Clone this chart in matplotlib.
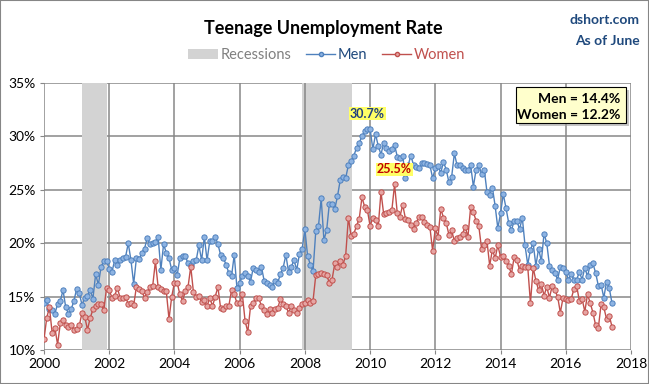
import numpy as np
import matplotlib.pyplot as plt
from matplotlib.patches import Rectangle
from matplotlib.lines import Line2D

plt.rcParams['font.family'] = ['Lato', 'DejaVu Sans']

# monthly teenage unemployment rate (%), Jan 2000 - Jun 2017
start_year = 2000
men_rate = [
    14.4, 14.7, 13.8, 13.7, 13.4, 14.3, 14.6, 15.6, 14.0, 13.4, 13.8, 14.6,
    15.7, 15.3, 14.2, 14.9, 15.1, 15.6, 14.8, 17.1, 16.1, 17.8, 18.3, 18.3,
    17.6, 17.3, 18.4, 18.0, 18.4, 18.6, 18.7, 20.0, 18.4, 16.2, 18.6, 18.5,
    19.1, 19.5, 20.5, 19.9, 20.0, 20.1, 20.6, 17.5, 19.9, 19.1, 18.6, 17.5,
    17.7, 17.0, 18.6, 18.8, 18.8, 18.1, 18.0, 18.3, 18.4, 19.8, 18.4, 20.6,
    18.4, 20.2, 20.2, 20.6, 19.9, 18.9, 18.6, 18.0, 17.2, 16.9, 18.9, 15.8,
    16.3, 16.9, 17.2, 16.9, 16.4, 17.7, 17.5, 17.3, 17.8, 16.5, 16.3, 16.1,
    15.9, 16.5, 16.3, 17.1, 17.7, 18.9, 17.3, 17.8, 18.4, 17.5, 19.0, 19.5,
    21.3, 18.8, 18.0, 17.4, 21.1, 21.6, 24.2, 20.3, 21.2, 23.7, 23.7, 23.2,
    24.4, 25.9, 26.2, 26.1, 27.3, 27.7, 28.2, 28.9, 29.4, 30.0, 30.5, 30.7,
    30.7, 28.8, 30.2, 29.1, 28.3, 29.4, 28.9, 28.6, 28.8, 29.2, 28.1, 28.0,
    28.2, 26.1, 27.3, 28.2, 27.3, 27.1, 27.0, 27.5, 27.5, 27.4, 27.3, 26.1,
    27.0, 27.2, 26.6, 27.6, 26.9, 25.7, 26.2, 28.4, 27.3, 27.3, 27.0, 26.9,
    26.9, 27.3, 25.3, 26.9, 27.3, 26.5, 26.9, 24.8, 24.5, 25.2, 23.5, 21.4,
    22.8, 24.6, 23.3, 21.9, 21.2, 22.1, 22.1, 21.3, 22.4, 19.8, 18.0, 19.4,
    20.0, 17.9, 19.5, 18.3, 20.9, 20.0, 17.9, 17.5, 17.2, 16.6, 17.8, 17.7,
    17.3, 16.6, 17.1, 16.6, 16.6, 17.3, 16.6, 17.7, 16.9, 18.0, 18.1, 17.2,
    16.0, 16.1, 14.9, 16.4, 15.8, 14.4,
]
women_rate = [
    11.0, 13.0, 14.0, 11.6, 12.1, 10.5, 12.5, 12.8, 12.3, 12.2, 12.3, 11.9,
    12.0, 12.3, 13.5, 13.1, 11.9, 13.0, 13.8, 14.1, 14.3, 14.3, 13.7, 15.8,
    15.6, 14.9, 15.1, 15.8, 14.9, 14.9, 15.0, 14.3, 14.4, 14.2, 15.9, 15.7,
    15.5, 14.9, 15.4, 15.9, 16.0, 18.3, 15.9, 15.7, 15.5, 15.5, 12.9, 15.0,
    16.3, 16.3, 15.2, 14.6, 15.5, 15.9, 17.8, 15.4, 15.0, 15.1, 14.5, 14.7,
    14.1, 14.9, 14.1, 15.0, 15.9, 13.9, 13.8, 14.1, 14.1, 15.6, 15.2, 14.4,
    14.4, 15.2, 12.7, 11.7, 14.1, 14.4, 14.9, 14.9, 14.1, 13.7, 13.4, 13.8,
    13.5, 13.8, 13.9, 14.8, 14.3, 14.1, 13.5, 14.1, 13.7, 13.5, 13.9, 14.3,
    14.4, 14.7, 14.4, 14.6, 17.0, 17.1, 17.2, 17.1, 17.0, 16.3, 16.6, 18.1,
    17.8, 18.3, 18.0, 18.8, 22.4, 20.7, 20.9, 21.6, 22.3, 24.3, 23.4, 23.1,
    21.6, 22.4, 22.2, 21.6, 24.8, 22.7, 22.8, 22.9, 23.1, 25.5, 22.8, 22.5,
    23.6, 22.3, 22.2, 21.7, 21.3, 21.9, 22.5, 22.5, 22.0, 21.7, 21.5, 19.3,
    21.4, 20.6, 23.2, 22.4, 21.9, 20.8, 21.2, 20.2, 20.5, 20.6, 20.9, 21.5,
    20.6, 23.4, 22.9, 22.1, 21.6, 19.5, 19.8, 20.2, 17.9, 19.4, 18.6, 19.8,
    18.7, 18.8, 18.3, 17.9, 17.1, 18.7, 18.4, 17.5, 17.9, 17.8, 17.8, 14.4,
    17.7, 16.5, 15.6, 16.2, 15.1, 15.9, 14.9, 16.0, 15.6, 15.0, 13.5, 14.9,
    14.8, 14.7, 14.8, 15.7, 16.0, 14.6, 14.8, 13.6, 15.2, 14.4, 13.5, 12.3,
    12.1, 14.3, 14.0, 12.9, 13.2, 12.2,
]
recessions = [(2001.17, 2001.92), (2007.92, 2009.45)]
x_ticks = [2000, 2002, 2004, 2006, 2008, 2010, 2012, 2014, 2016, 2018]
y_ticks = [10, 15, 20, 25, 30, 35]

men_blue = '#4F81BD'
women_red = '#C0504D'
grid_gray = '#878787'

dates = start_year + np.arange(len(men_rate)) / 12.0

fig = plt.figure(figsize=(6.49, 3.84), dpi=100)
ax = fig.add_axes([44 / 649, 1 - 350 / 384, 587 / 649, 267 / 384])

for r0, r1 in recessions:
    ax.axvspan(r0, r1, color='#D3D3D3', lw=0, zorder=1)
for yv in y_ticks:
    ax.axhline(yv, color=grid_gray, lw=1.1, zorder=0.5)
for xv in x_ticks:
    ax.axvline(xv, color=grid_gray, lw=1.1, zorder=1.5)

ax.plot(dates, men_rate, color=men_blue, lw=1, marker='o', ms=3.8,
        mfc='#8DB3E2', mec=men_blue, mew=0.7, zorder=3)
ax.plot(dates, women_rate, color=women_red, lw=1, marker='o', ms=3.8,
        mfc='#E6A5A3', mec=women_red, mew=0.7, zorder=3)

ax.set_xlim(x_ticks[0], x_ticks[-1])
ax.set_ylim(y_ticks[0], y_ticks[-1])
ax.set_xticks(x_ticks)
ax.set_xticklabels([str(t) for t in x_ticks])
ax.set_yticks(y_ticks)
ax.set_yticklabels(['%d%%' % t for t in y_ticks])
ax.tick_params(length=3, color=grid_gray, labelsize=10, pad=3)
for s in ax.spines.values():
    s.set_visible(False)

# peak labels
for rate, col in [(men_rate, '#1F3F7F'), (women_rate, '#C00000')]:
    i = int(np.argmax(rate))
    ax.annotate('%.1f%%' % rate[i], (dates[i], rate[i]), xytext=(0, 11),
                textcoords='offset points', ha='center', va='center',
                fontsize=9, fontweight='bold', color=col, zorder=5,
                bbox=dict(boxstyle='square,pad=0.05', fc='#FFFF66', ec='none'))

# current values box
px = lambda x, y: (x / 649, 1 - y / 384)
fig.patches.append(Rectangle(px(519, 126), 110 / 649, 36 / 384, transform=fig.transFigure,
                             fc='#A0A0A0', ec='none', alpha=0.6, zorder=4))
fig.patches.append(Rectangle(px(516, 123), 110 / 649, 36 / 384, transform=fig.transFigure,
                             fc='#FFFFCC', ec='black', lw=0.8, zorder=5))
fig.text(*px(620, 103), 'Men = %.1f%%' % men_rate[-1], ha='right', va='baseline',
         fontsize=10, fontweight='bold', zorder=6)
fig.text(*px(620, 119), 'Women = %.1f%%' % women_rate[-1], ha='right', va='baseline',
         fontsize=10, fontweight='bold', zorder=6)

fig.text(*px(323, 34), 'Teenage Unemployment Rate', ha='center', va='baseline',
         fontsize=13, fontweight='bold')
fig.text(*px(640, 24), 'dshort.com', ha='right', va='baseline',
         fontsize=10, fontweight='bold', color='#1F497D')
fig.text(*px(640, 45), 'As of June', ha='right', va='baseline',
         fontsize=10, fontweight='bold', color='#1F497D')

handles = [Rectangle((0, 0), 1, 1, fc='#D3D3D3', ec='none'),
           Line2D([], [], color=men_blue, lw=1, marker='o', ms=3, mfc='#8DB3E2', mec=men_blue),
           Line2D([], [], color=women_red, lw=1, marker='o', ms=3, mfc='#E6A5A3', mec=women_red)]
leg = fig.legend(handles, ['Recessions', 'Men', 'Women'], loc='center',
                 bbox_to_anchor=px(327, 55), ncol=3, frameon=False, fontsize=10.5,
                 handlelength=2.0, handletextpad=0.2, columnspacing=1.0)
for t, c in zip(leg.get_texts(), ['#808080', '#1F497D', women_red]):
    t.set_color(c)

fig.patches.append(Rectangle((0, 0), 1, 1, transform=fig.transFigure, fill=False,
                             ec='#868686', lw=1.5))

fig.savefig('out.png', dpi=100)
